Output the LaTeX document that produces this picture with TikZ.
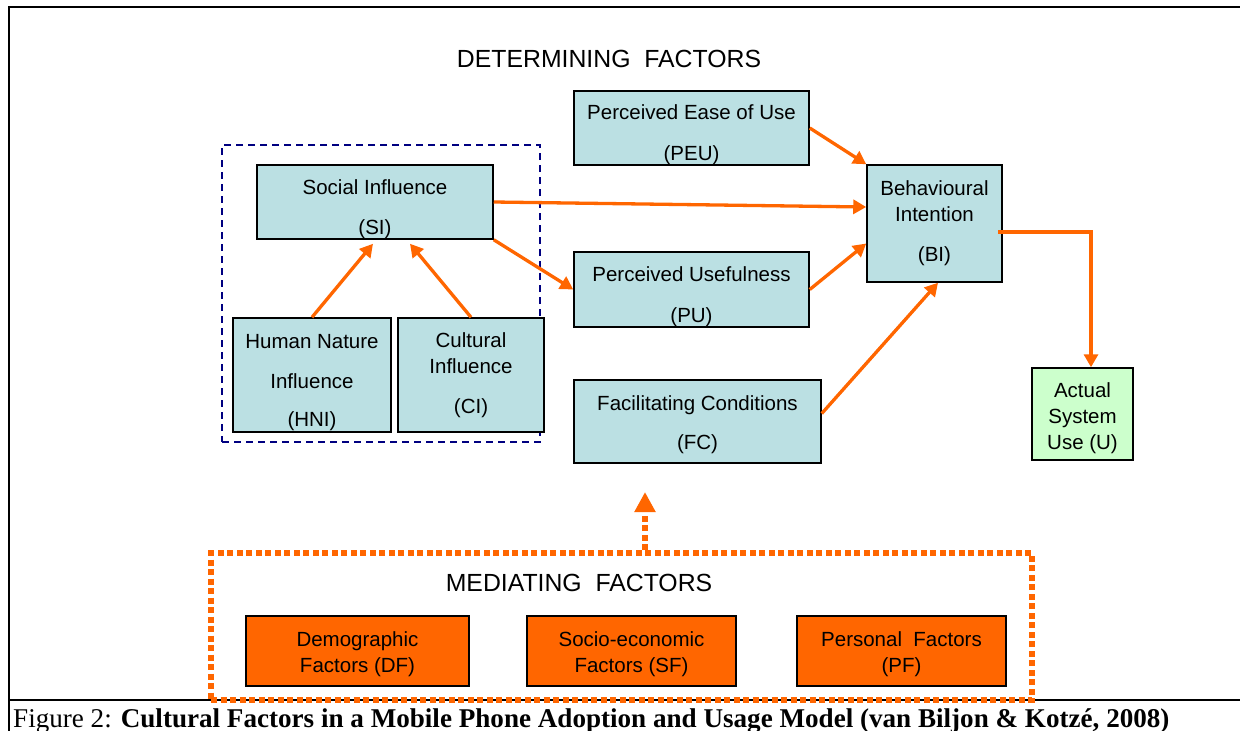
\documentclass[tikz,border=0pt]{standalone}
\usepackage{fontspec}
\setmainfont{Liberation Sans}
\newfontfamily\capfont{Liberation Serif}
\usetikzlibrary{arrows.meta}
\definecolor{paleblue}{RGB}{187,224,227}
\definecolor{palegreen}{RGB}{204,255,204}
\definecolor{deeporange}{RGB}{255,102,0}
\definecolor{navyblue}{RGB}{0,0,128}
\newcommand{\textdrop}[1]{\rule{0pt}{#1}}

\begin{document}
\begin{tikzpicture}[
    x = 1pt,
    y = -1pt,
    box/.style = {draw=black, line width=1.5pt, fill=paleblue, align=center,
        inner ysep=0pt, font=\fontsize{20.5}{26}\selectfont},
    medbox/.style = {box, fill=deeporange},
    usebox/.style = {box, fill=palegreen},
    flow/.style = {draw=deeporange, line width=3.3pt,
        -{Triangle[length=13pt,width=14pt]}},
    dotted flow/.style = {draw=deeporange, line width=6pt,
        dash pattern=on 6pt off 3.5pt},
    title/.style = {anchor=base, font=\fontsize{24.8}{29}\selectfont}]
    % PAGE
    \fill[white] (0,0) rectangle (1240,731);
    \useasboundingbox (0,0) rectangle (1240,731);
    \draw[line width=2pt] (1240,7) -- (8.5,7) -- (8.5,731);
    \draw[line width=2pt] (8.5,700) -- (1240,700);
    % caption node
    \node[anchor=base west, inner sep=0pt, font=\capfont\fontsize{27.1}{32}\selectfont] (Cap) at (13,727)
        {Figure 2: \textbf{Cultural Factors in a Mobile Phone Adoption and Usage Model (van Biljon \& Kotzé, 2008)}};

    % NODES
    % titles
    \node[title] (Det) at (609,67) {DETERMINING\ \ FACTORS};
    \node[title] (Med) at (579,591) {MEDIATING\ \ FACTORS};
    % group round the social influence
    \node[draw=navyblue, line width=2pt, dash pattern=on 7pt off 5pt,
        minimum width=318pt, minimum height=297pt] (SIgroup) at (381,293.5) {};
    % group of the mediating factors
    \node[dotted flow, minimum width=821pt, minimum height=147pt] (MF) at (621.5,626.5) {};
    % node PEU
    \node[box, minimum width=235pt, minimum height=74pt] (PEU) at (691.5,128) {\textdrop{29pt}Perceived Ease of Use\\[15pt](PEU)};
    % node SI
    \node[box, minimum width=236pt, minimum height=74pt] (SI) at (375,202) {\textdrop{29pt}Social Influence\\[14pt](SI)};
    % node PU
    \node[box, minimum width=235pt, minimum height=75pt] (PU) at (691.5,289.5) {\textdrop{30pt}Perceived Usefulness\\[15pt](PU)};
    % node FC
    \node[box, minimum width=247pt, minimum height=83pt] (FC) at (697.5,421.5) {\textdrop{22pt}Facilitating Conditions\\[13pt](FC)};
    % node BI
    \node[box, minimum width=135pt, minimum height=117pt] (BI) at (934.5,223.5) {Behavioural\\Intention\\[14pt](BI)};
    % node HNI
    \node[box, minimum width=158pt, minimum height=114pt] (HNI) at (312,375) {\textdrop{29pt}Human Nature\\[14pt]Influence\\[12pt](HNI)};
    % node CI
    \node[box, minimum width=146pt, minimum height=114pt] (CI) at (471,375) {Cultural\\Influence\\[14pt](CI)};
    % node U
    \node[usebox, minimum width=101pt, minimum height=92pt] (U) at (1082.5,414) {\textdrop{24pt}Actual\\System\\Use (U)};
    % nodes DF, SF, PF
    \node[medbox, minimum width=223pt, minimum height=70pt] (DF) at (357.5,651) {\textdrop{21pt}Demographic\\Factors (DF)};
    \node[medbox, minimum width=209pt, minimum height=70pt] (SF) at (631.5,651) {\textdrop{21pt}Socio-economic\\Factors (SF)};
    \node[medbox, minimum width=209pt, minimum height=70pt] (PF) at (901.5,651) {\textdrop{21pt}Personal\ \ Factors\\(PF)};
    \coordinate (MedTip) at (645,492);

    % ARROWS
    \draw[flow] (PEU.east) -- (BI.north west);
    \draw[flow] (SI.east) -- ([yshift=16.5pt]BI.west);
    \draw[flow] (SI.south east) -- (PU.west);
    \draw[flow] (PU.east) -- ([yshift=-20pt]BI.west);
    \draw[flow] ([yshift=8pt]FC.east) -- ([xshift=3.5pt]BI.south);
    \draw[flow] (HNI.north) -- ([xshift=-2pt,yshift=-4pt]SI.south);
    \draw[flow] (CI.north) -- ([xshift=35pt,yshift=-4pt]SI.south);
    \draw[flow] ([xshift=-5pt,yshift=-8.5pt]BI.east) -| ([xshift=8.5pt]U.north);
    \draw[dotted flow, -{Triangle[length=20pt,width=20pt]}] (MF.north -| MedTip) -- (MedTip);
  \end{tikzpicture}
\end{document}
